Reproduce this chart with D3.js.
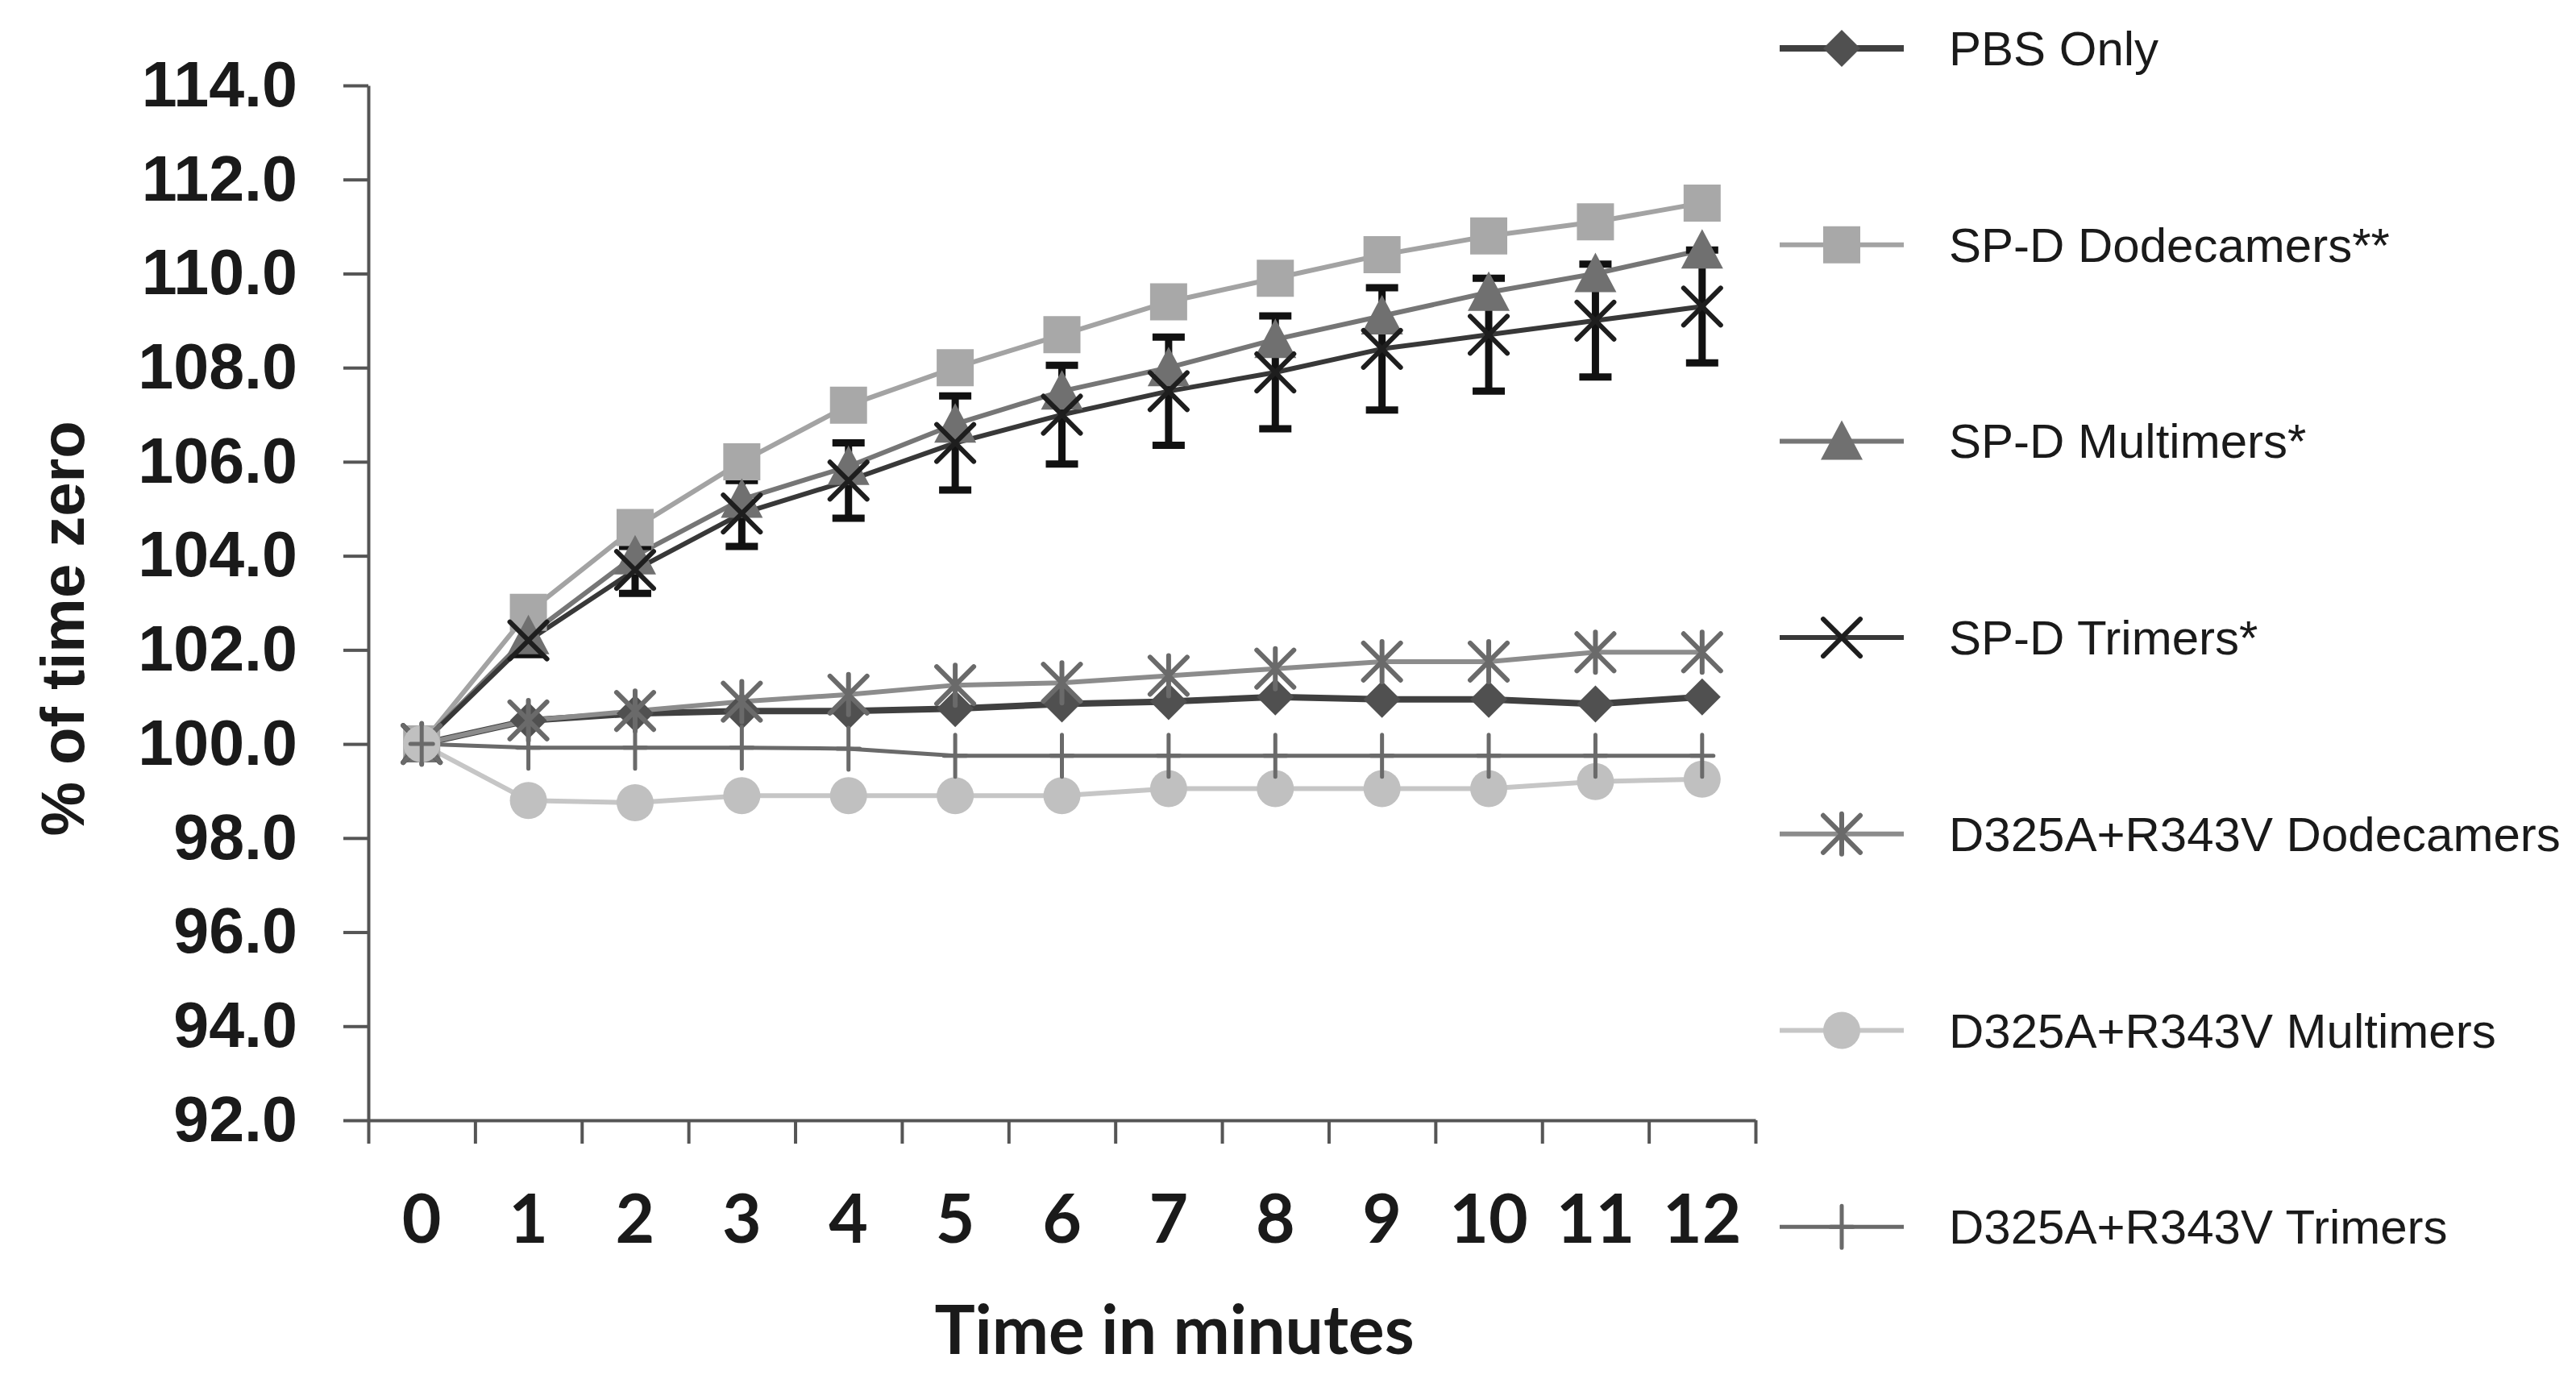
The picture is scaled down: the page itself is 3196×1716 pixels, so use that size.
<!DOCTYPE html>
<html>
<head>
<meta charset="utf-8">
<script src="https://cdn.jsdelivr.net/npm/d3@7"></script>
<style>
  html, body { margin: 0; padding: 0; background: #fff; }
  svg text { fill: #1a1a1a; }
</style>
</head>
<body>
<svg id="chart" width="3196" height="1716"></svg>
<script>
// time points (minutes)
const minutes = ["0","1","2","3","4","5","6","7","8","9","10","11","12"];
const yTicks = [92, 94, 96, 98, 100, 102, 104, 106, 108, 110, 112, 114];

// series values, % of time zero
const pbsOnly        = [100, 100.5, 100.65, 100.7, 100.7, 100.75, 100.85, 100.9, 101.0, 100.95, 100.95, 100.85, 101.0];
const spdDodecamers  = [100, 102.8, 104.6, 106.0, 107.2, 108.0, 108.7, 109.4, 109.9, 110.4, 110.8, 111.1, 111.5];
const spdMultimers   = [100, 102.3, 104.0, 105.2, 105.9, 106.8, 107.5, 108.0, 108.6, 109.1, 109.6, 110.0, 110.5];
const spdTrimers     = [100, 102.2, 103.7, 104.9, 105.6, 106.4, 107.0, 107.5, 107.9, 108.4, 108.7, 109.0, 109.3];
const spdTrimersErr  = [0, 0.3, 0.5, 0.7, 0.8, 1.0, 1.05, 1.15, 1.2, 1.3, 1.2, 1.2, 1.2];
const mutDodecamers  = [100, 100.5, 100.7, 100.9, 101.05, 101.25, 101.3, 101.45, 101.6, 101.75, 101.75, 101.95, 101.95];
const mutMultimers   = [100, 98.8, 98.75, 98.9, 98.9, 98.9, 98.9, 99.05, 99.05, 99.05, 99.05, 99.2, 99.25];
const mutTrimers     = [100, 99.92, 99.92, 99.92, 99.9, 99.75, 99.75, 99.75, 99.75, 99.75, 99.75, 99.75, 99.75];

const seriesNames = ["PBS Only", "SP-D Dodecamers**", "SP-D Multimers*", "SP-D Trimers*",
                     "D325A+R343V Dodecamers", "D325A+R343V Multimers", "D325A+R343V Trimers"];

// styling per series (kept apart from the values)
const styles = [
  {values: pbsOnly,       shape: "diamond",  line: "#404040", fill: "#505050", width: 8},
  {values: spdDodecamers, shape: "square",   line: "#a3a3a3", fill: "#a8a8a8", width: 6},
  {values: spdMultimers,  shape: "triangle", line: "#767676", fill: "#707070", width: 6},
  {values: spdTrimers,    shape: "x",        line: "#383838", fill: "#1e1e1e", width: 6},
  {values: mutDodecamers, shape: "asterisk", line: "#8c8c8c", fill: "#6a6a6a", width: 6},
  {values: mutMultimers,  shape: "circle",   line: "#c6c6c6", fill: "#c0c0c0", width: 6},
  {values: mutTrimers,    shape: "plus",     line: "#6a6a6a", fill: "#6a6a6a", width: 5}
];

const svg = d3.select("#chart");
const plot = {left: 457, right: 2178, top: 106, bottom: 1390};

const x = d3.scaleBand().domain(minutes).range([plot.left, plot.right]);
const xEdges = d3.scaleLinear().domain([0, minutes.length]).range([plot.left, plot.right]);
const y = d3.scaleLinear().domain([92, 114]).range([plot.bottom, plot.top]);
const cx = function(i){ return x(minutes[i]) + x.bandwidth() / 2; };

// marker shapes (relative to the point)
function markerPath(shape){
  const r = 23;
  switch(shape){
    case "diamond":  return `M0,${-r}L${r},0L0,${r}L${-r},0Z`;
    case "square":   return `M${-r},${-r}H${r}V${r}H${-r}Z`;
    case "triangle": return `M0,${-r-3}L${r+3},${r}L${-r-3},${r}Z`;
    case "circle":   return d3.symbol(d3.symbolCircle, Math.PI * r * r)();
    case "x":        return `M${-r},${-r}L${r},${r}M${-r},${r}L${r},${-r}`;
    case "asterisk": return `M${-r},${-r}L${r},${r}M${-r},${r}L${r},${-r}M0,${-r-2}V${r+2}`;
    case "plus":     return `M0,${-26}V26M-14,0H14`;
  }
}
const stroked = {x: 6, asterisk: 6, plus: 5};

function drawMarker(g, shape, color){
  const p = g.append("path").attr("d", markerPath(shape));
  if(stroked[shape]){
    p.attr("fill", "none").attr("stroke", color).attr("stroke-width", stroked[shape]).attr("stroke-linecap", "round");
  } else {
    p.attr("fill", color);
  }
}

// y axis
const yAxis = svg.append("g")
  .attr("transform", `translate(${plot.left},0)`)
  .call(d3.axisLeft(y).tickValues(yTicks).tickFormat(d3.format(".1f")).tickSize(31).tickPadding(57).tickSizeOuter(0));
yAxis.select(".domain").attr("stroke", "#555").attr("stroke-width", 4);
yAxis.selectAll(".tick line").attr("stroke", "#555").attr("stroke-width", 4);
yAxis.selectAll("text")
  .attr("font-family", "Liberation Sans, Arial, sans-serif")
  .attr("font-weight", "bold")
  .attr("font-size", 79)
  .attr("fill", "#1a1a1a");

// x axis: ticks on category edges, labels at the centres
const xTickAxis = svg.append("g")
  .attr("transform", `translate(0,${plot.bottom})`)
  .call(d3.axisBottom(xEdges).ticks(minutes.length).tickFormat("").tickSize(29).tickSizeOuter(0));
xTickAxis.select(".domain").attr("stroke", "#555").attr("stroke-width", 4);
xTickAxis.selectAll(".tick line").attr("stroke", "#555").attr("stroke-width", 4);

const xLabelAxis = svg.append("g")
  .attr("transform", `translate(0,${plot.bottom})`)
  .call(d3.axisBottom(x).tickSize(0).tickPadding(92));
xLabelAxis.select(".domain").remove();
xLabelAxis.selectAll("text")
  .attr("font-family", "Lato, Carlito, sans-serif")
  .attr("font-weight", "bold")
  .attr("font-size", 84)
  .attr("fill", "#1a1a1a");

// axis titles
svg.append("text")
  .attr("transform", "translate(104,780) rotate(-90)")
  .attr("text-anchor", "middle")
  .attr("font-family", "Liberation Sans, Arial, sans-serif")
  .attr("font-weight", "bold")
  .attr("font-size", 76)
  .text("% of time zero");

svg.append("text")
  .attr("x", 1457)
  .attr("y", 1680)
  .attr("text-anchor", "middle")
  .attr("font-family", "Lato, Carlito, sans-serif")
  .attr("font-weight", "bold")
  .attr("font-size", 84)
  .text("Time in minutes");

// lines
const line = d3.line().x(function(d, i){ return cx(i); }).y(function(d){ return y(d); });
styles.forEach(function(s){
  svg.append("path")
    .datum(s.values)
    .attr("fill", "none")
    .attr("stroke", s.line)
    .attr("stroke-width", s.width)
    .attr("stroke-linejoin", "round")
    .attr("d", line);
});

// error bars for SP-D trimers
const errG = svg.append("g").attr("stroke", "#111").attr("stroke-width", 9);
spdTrimers.forEach(function(v, i){
  const e = spdTrimersErr[i];
  if(!e) return;
  errG.append("line").attr("x1", cx(i)).attr("x2", cx(i)).attr("y1", y(v - e)).attr("y2", y(v + e));
  errG.append("line").attr("x1", cx(i) - 20).attr("x2", cx(i) + 20).attr("y1", y(v - e)).attr("y2", y(v - e));
  errG.append("line").attr("x1", cx(i) - 20).attr("x2", cx(i) + 20).attr("y1", y(v + e)).attr("y2", y(v + e));
});

// markers
styles.forEach(function(s){
  s.values.forEach(function(v, i){
    const g = svg.append("g").attr("transform", `translate(${cx(i)},${y(v)})`);
    drawMarker(g, s.shape, s.fill);
  });
});

// legend
const legendTop = 60, legendStep = 243.7;
styles.forEach(function(s, k){
  const g = svg.append("g").attr("transform", `translate(0,${legendTop + k * legendStep})`);
  g.append("line").attr("x1", 2208).attr("x2", 2362).attr("y1", 0).attr("y2", 0)
    .attr("stroke", s.line).attr("stroke-width", s.width);
  const m = g.append("g").attr("transform", "translate(2285,0)");
  drawMarker(m, s.shape, s.fill);
  g.append("text")
    .attr("x", 2418)
    .attr("y", 0)
    .attr("dy", "0.35em")
    .attr("font-family", "Liberation Sans, Arial, sans-serif")
    .attr("font-size", 60)
    .attr("fill", "#262626")
    .text(seriesNames[k]);
});
</script>
</body>
</html>
